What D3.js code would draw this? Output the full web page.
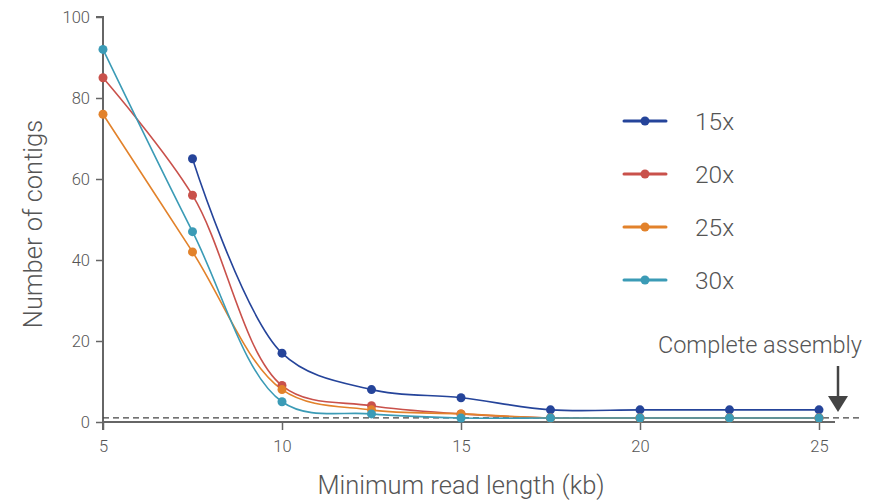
<!DOCTYPE html>
<html>
<head>
<meta charset="utf-8">
<script src="https://cdn.jsdelivr.net/npm/d3@7"></script>
<style>
  body { margin: 0; background: #fff; }
  text { font-family: "Roboto", "Liberation Sans", sans-serif; font-weight: 300; fill: #555; }
</style>
</head>
<body>
<script>
// Chart size
const width = 881;
const height = 500;

// Data
const readLengths = [5, 7.5, 10, 12.5, 15, 17.5, 20, 22.5, 25];
const cov15 = [null, 65, 17, 8, 6, 3, 3, 3, 3];
const cov20 = [85, 56, 9, 4, 2, 1, 1, 1, 1];
const cov25 = [76, 42, 8, 3, 2, 1, 1, 1, 1];
const cov30 = [92, 47, 5, 2, 1, 1, 1, 1, 1];
const seriesNames = ["15x", "20x", "25x", "30x"];
const seriesColors = ["#25449a", "#c9514b", "#e2822b", "#3b9bb6"];
const xTicks = [5, 10, 15, 20, 25];
const yTicks = [0, 20, 40, 60, 80, 100];
const completeLevel = 1;

const series = [cov15, cov20, cov25, cov30].map((vals, i) => ({
  name: seriesNames[i],
  color: seriesColors[i],
  points: readLengths
    .map((x, j) => ({ x, y: vals[j] }))
    .filter((d) => d.y !== null),
}));

const svg = d3
  .select("body")
  .append("svg")
  .attr("width", width)
  .attr("height", height);

// Scales
const x = d3.scaleLinear().domain([5, 25]).range([103, 819]);
const y = d3.scaleLinear().domain([0, 100]).range([422, 17]);

// Axes
const yAxis = svg
  .append("g")
  .attr("transform", `translate(${x(5)},0)`)
  .call(d3.axisLeft(y).tickValues(yTicks).tickSize(7).tickPadding(6));
yAxis.select(".domain").attr("d", `M-7,${y(100)}H0V${y(0) + 8}`);

const xAxis = svg
  .append("g")
  .attr("transform", `translate(0,${y(0)})`)
  .call(d3.axisBottom(x).tickValues(xTicks).tickSize(8).tickPadding(10));
xAxis.select(".domain").attr("d", `M${x(5)},0H${x(25) + 16}`);

svg.selectAll(".domain").attr("stroke", "#666").attr("stroke-width", 2);
svg.selectAll(".tick line").attr("stroke", "#666").attr("stroke-width", 1.5);
svg.selectAll(".tick text").style("font-size", "16.5px").attr("fill", "#555");

// Complete assembly reference line
svg
  .append("line")
  .attr("x1", x(5))
  .attr("x2", 862)
  .attr("y1", y(completeLevel))
  .attr("y2", y(completeLevel))
  .attr("stroke", "#444")
  .attr("stroke-width", 1.2)
  .attr("stroke-dasharray", "6,4");

// Lines and points
const line = d3
  .line()
  .x((d) => x(d.x))
  .y((d) => y(d.y))
  .curve(d3.curveCatmullRom.alpha(0.5));

series.forEach((s) => {
  svg
    .append("path")
    .datum(s.points)
    .attr("fill", "none")
    .attr("stroke", s.color)
    .attr("stroke-width", 1.6)
    .attr("d", line);
});
series.forEach((s) => {
  svg
    .append("g")
    .selectAll("circle")
    .data(s.points)
    .join("circle")
    .attr("cx", (d) => x(d.x))
    .attr("cy", (d) => y(d.y))
    .attr("r", 4.5)
    .attr("fill", s.color);
});

// Legend
const legend = svg.append("g").attr("transform", "translate(624,121)");
const item = legend
  .selectAll("g")
  .data(series)
  .join("g")
  .attr("transform", (d, i) => `translate(0,${i * 53})`);
item
  .append("line")
  .attr("x1", 0)
  .attr("x2", 42)
  .attr("stroke", (d) => d.color)
  .attr("stroke-width", 3)
  .attr("stroke-linecap", "round");
item
  .append("circle")
  .attr("cx", 21)
  .attr("r", 4.5)
  .attr("fill", (d) => d.color);
item
  .append("text")
  .attr("x", 71)
  .attr("dy", "0.36em")
  .style("font-size", "24.5px")
  .attr("fill", "#444")
  .text((d) => d.name);

// Annotation
svg
  .append("text")
  .attr("x", 862)
  .attr("y", 353)
  .attr("text-anchor", "end")
  .style("font-size", "23.5px")
  .attr("fill", "#444")
  .text("Complete assembly");
svg
  .append("line")
  .attr("x1", 838)
  .attr("x2", 838)
  .attr("y1", 366)
  .attr("y2", 398)
  .attr("stroke", "#444")
  .attr("stroke-width", 2.5);
svg
  .append("path")
  .attr("d", "M828,396L848,396L838,412Z")
  .attr("fill", "#444");

// Axis titles
svg
  .append("text")
  .attr("x", 461)
  .attr("y", 494)
  .attr("text-anchor", "middle")
  .style("font-size", "25.5px")
  .attr("fill", "#555")
  .text("Minimum read length (kb)");
svg
  .append("text")
  .attr("transform", "translate(42,224) rotate(-90)")
  .attr("text-anchor", "middle")
  .style("font-size", "25.5px")
  .attr("fill", "#555")
  .text("Number of contigs");
</script>
</body>
</html>
